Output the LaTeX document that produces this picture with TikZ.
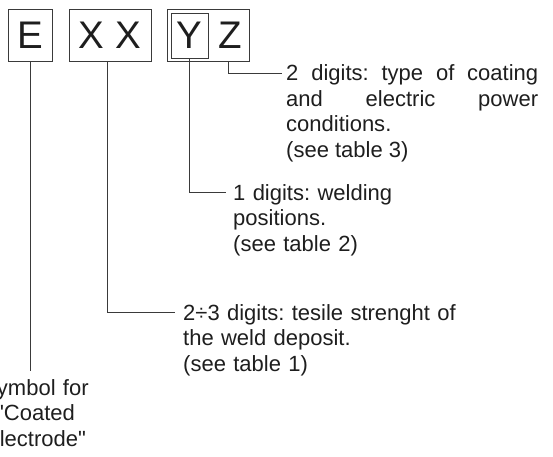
\documentclass[tikz,border=0pt]{standalone}
\usepackage{fontspec}
\setmainfont{Liberation Sans}
\newfontfamily\descfont{Liberation Sans}
\definecolor{ink}{HTML}{1E1E1E}
\definecolor{rule}{HTML}{3A3A3A}
\begin{document}
\begin{tikzpicture}[x=1pt,y=-1pt,
  box/.style={draw=rule,line width=0.9pt,inner sep=0pt,minimum height=52.5pt,text=ink,font=\descfont\fontsize{38.5}{40}\selectfont},
  conn/.style={draw=rule,line width=0.9pt},
  desc/.style={inner sep=0pt,anchor=base west,text=ink,font=\descfont\fontsize{22}{25.5}\selectfont\frenchspacing}]
\useasboundingbox (0,0) rectangle (553,456);
% code boxes
\node[box,minimum width=44.5pt] (E) at (30.5,35.5) {E};
\node[box,minimum width=82pt] (XX) at (110,35.5) {X X};
\node[box,minimum width=82pt] (YZ) at (208,35.5) {};
\node[box,minimum width=37pt,minimum height=45pt] (Y) at (189.5,35.5) {Y};
\node[inner sep=0pt,text=ink,font=\descfont\fontsize{38.5}{40}\selectfont] (Z) at (230,35.5) {Z};
% connector ends
\coordinate (zEnd) at (282,73);
\coordinate (yEnd) at (226,192.5);
\coordinate (xEnd) at (175,312);
\coordinate (eEnd) at (30.5,371);
% descriptions
\node[desc,text width=252pt,align=justify] (tZ) at (286,80.5)
  {2 digits: type of coating\linebreak and electric power\linebreak conditions.\\(see table 3)};
\node[desc,text width=200pt,align=left] (tY) at (233,200)
  {1 digits: welding\\positions.\\(see table 2)};
\node[desc,text width=300pt,align=left] (tX) at (183,320)
  {2÷3 digits: tesile strenght of\\the weld deposit.\\(see table 1)};
\node[desc,anchor=base,text width=140pt,align=center] (tE) at (35.5,395)
  {Symbol for\\"Coated\\Electrode"};
% connectors
\draw[conn] ([xshift=20pt]YZ.south) |- (zEnd);
\draw[conn] (Y.south) |- (yEnd);
\draw[conn] ([xshift=-3pt]XX.south) |- (xEnd);
\draw[conn] (E.south) -- (eEnd);
\end{tikzpicture}
\end{document}
